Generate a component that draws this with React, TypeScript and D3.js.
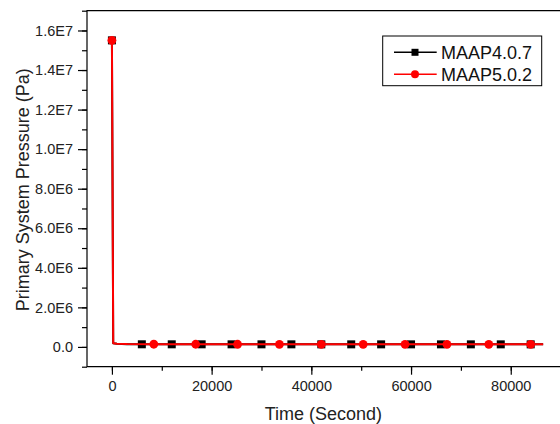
import React, { useEffect, useRef } from 'react';
import * as d3 from 'd3';

// MAAP4.0.7 primary system pressure (Pa) vs time (s)
const maap4Time = [0, 260, 1000, 3000, 6000, 12000, 18000, 24000, 30000, 36000, 42000, 48000, 54000, 60000, 66000, 72000, 78000, 84000, 86500];
const maap4Pressure = [1.55e7, 1.85e5, 1.55e5, 1.4e5, 1.33e5, 1.32e5, 1.32e5, 1.31e5, 1.31e5, 1.31e5, 1.3e5, 1.3e5, 1.3e5, 1.3e5, 1.3e5, 1.3e5, 1.3e5, 1.3e5, 1.3e5];
const maap4Markers = [0, 6000, 12000, 18000, 24000, 30000, 36000, 42000, 48000, 54000, 60000, 66000, 72000, 78000, 84000];

// MAAP5.0.2
const maap5Time = [0, 260, 1000, 3000, 8400, 16800, 25200, 33600, 42000, 50400, 58800, 67200, 75600, 84000, 86500];
const maap5Pressure = [1.55e7, 1.85e5, 1.6e5, 1.45e5, 1.36e5, 1.35e5, 1.34e5, 1.33e5, 1.33e5, 1.32e5, 1.32e5, 1.32e5, 1.31e5, 1.31e5, 1.31e5];
const maap5Markers = [0, 8400, 16800, 25200, 33600, 42000, 50400, 58800, 67200, 75600, 84000];

const xTicks = [0, 20000, 40000, 60000, 80000];
const yTicks = [0, 2e6, 4e6, 6e6, 8e6, 1e7, 1.2e7, 1.4e7, 1.6e7];
const yTickLabels = ['0.0', '2.0E6', '4.0E6', '6.0E6', '8.0E6', '1.0E7', '1.2E7', '1.4E7', '1.6E7'];

const seriesNames = ['MAAP4.0.7', 'MAAP5.0.2'];

const FONT = 'Liberation Sans, Arial, sans-serif';

const App = () => {
  const ref = useRef<SVGSVGElement | null>(null);

  useEffect(() => {
    const width = 560;
    const height = 424;
    const left = 87, top = 10.7, bottom = 366.7, right = 560.6;

    const svg = d3.select(ref.current);
    svg.selectAll('*').remove();
    svg.attr('width', width).attr('height', height);

    const x = d3.scaleLinear().domain([-5000, 90000]).range([left, right]);
    const y = d3.scaleLinear().domain([-1e6, 1.7e7]).range([bottom, top]);

    // frame (left, bottom, top; right edge is off the picture)
    svg.append('path')
      .attr('d', `M${right},${top}H${left}V${bottom}H${right}`)
      .attr('fill', 'none')
      .attr('stroke', '#000')
      .attr('stroke-width', 1.2);

    // y axis
    const yAxis = svg.append('g').attr('transform', `translate(${left},0)`);
    yAxis.call(
      d3.axisLeft(y)
        .tickValues(d3.range(-1e6, 1.7e7 + 1, 1e6))
        .tickSize(5)
        .tickFormat(() => '')
    ).call(g => g.select('.domain').remove());
    yAxis.append('g').call(
      d3.axisLeft(y)
        .tickValues(yTicks)
        .tickSize(9)
        .tickPadding(5)
        .tickFormat((_, i) => yTickLabels[i])
    ).call(g => g.select('.domain').remove());

    // x axis
    const xAxis = svg.append('g').attr('transform', `translate(0,${bottom})`);
    xAxis.call(
      d3.axisBottom(x)
        .tickValues(d3.range(0, 90001, 10000))
        .tickSize(4)
        .tickFormat(() => '')
    ).call(g => g.select('.domain').remove());
    xAxis.append('g').call(
      d3.axisBottom(x)
        .tickValues(xTicks)
        .tickSize(8)
        .tickPadding(6)
        .tickFormat(d => String(d))
    ).call(g => g.select('.domain').remove());

    svg.selectAll('.tick line').attr('stroke', '#000').attr('stroke-width', 1.2);
    svg.selectAll('.tick text')
      .attr('font-family', FONT)
      .attr('font-size', 14.5)
      .attr('fill', '#222');

    // axis titles
    svg.append('text')
      .attr('x', (x(0) + x(80000)) / 2 + 12)
      .attr('y', 419.5)
      .attr('text-anchor', 'middle')
      .attr('font-family', FONT)
      .attr('font-size', 18)
      .attr('fill', '#222')
      .text('Time (Second)');

    svg.append('text')
      .attr('transform', `translate(28.5,${(top + bottom) / 2 + 1}) rotate(-90)`)
      .attr('text-anchor', 'middle')
      .attr('font-family', FONT)
      .attr('font-size', 18)
      .attr('fill', '#222')
      .text('Primary System Pressure (Pa)');

    const line = d3.line<number>()
      .x((d, i, arr) => x(d))
      .y(d => d);

    const series = [
      { time: maap4Time, p: maap4Pressure, marks: maap4Markers, color: '#000', shape: 'square' },
      { time: maap5Time, p: maap5Pressure, marks: maap5Markers, color: '#ff0000', shape: 'circle' },
    ];

    const plot = svg.append('g');
    series.forEach(s => {
      const pts = s.time.map((t, i) => [t, s.p[i]] as [number, number]);
      plot.append('path')
        .datum(pts)
        .attr('fill', 'none')
        .attr('stroke', s.color)
        .attr('stroke-width', 2)
        .attr('stroke-linejoin', 'round')
        .attr('d', d3.line<[number, number]>().x(d => x(d[0])).y(d => y(d[1])));

      const marked = pts.filter(d => s.marks.includes(d[0]));
      if (s.shape === 'square') {
        plot.append('g').selectAll('rect')
          .data(marked)
          .join('rect')
          .attr('x', d => x(d[0]) - 4)
          .attr('y', d => y(d[1]) - 4)
          .attr('width', 8)
          .attr('height', 8)
          .attr('fill', s.color);
      } else {
        plot.append('g').selectAll('circle')
          .data(marked)
          .join('circle')
          .attr('cx', d => x(d[0]))
          .attr('cy', d => y(d[1]))
          .attr('r', 4.4)
          .attr('fill', s.color);
      }
    });

    // legend
    const legend = svg.append('g');
    legend.append('rect')
      .attr('x', 382.7)
      .attr('y', 36)
      .attr('width', 159)
      .attr('height', 49.7)
      .attr('fill', '#fff')
      .attr('stroke', '#000')
      .attr('stroke-width', 1);

    const rows = legend.selectAll('g.row')
      .data(seriesNames)
      .join('g')
      .attr('class', 'row')
      .attr('transform', (_, i) => `translate(0,${52.3 + i * 22})`);

    rows.append('line')
      .attr('x1', 394)
      .attr('x2', 436.7)
      .attr('stroke', (_, i) => series[i].color)
      .attr('stroke-width', 1.5);

    rows.filter((_, i) => i === 0).append('rect')
      .attr('x', 411.5).attr('y', -3.5).attr('width', 7).attr('height', 7)
      .attr('fill', '#000');
    rows.filter((_, i) => i === 1).append('circle')
      .attr('cx', 415).attr('r', 4).attr('fill', '#ff0000');

    rows.append('text')
      .attr('x', 441)
      .attr('y', 6.5)
      .attr('font-family', FONT)
      .attr('font-size', 18)
      .attr('fill', '#111')
      .text(d => d);
  }, []);

  return (
    <svg ref={ref} style={{ position: 'absolute', left: 0, top: 0, display: 'block' }}></svg>
  );
};

export default App;
